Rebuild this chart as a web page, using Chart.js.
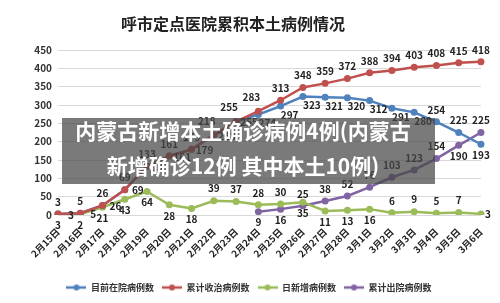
<!DOCTYPE html>
<html>
<head>
<meta charset="utf-8">
<script src="https://cdn.jsdelivr.net/npm/chart.js@4"></script>
<style>
  html, body { margin: 0; padding: 0; background: #fff; }
  #wrap { position: relative; width: 500px; height: 303px; }
  .cap {
    position: absolute; left: 62px; width: 362px; height: 24px; line-height: 24px;
    text-align: center; color: #fff; font: bold 21px "Noto Sans CJK SC", sans-serif;
    white-space: nowrap;
  }
  #box { position: absolute; left: 62px; top: 118px; width: 373px; height: 66px; background: rgba(70,70,70,0.72); }
</style>
</head>
<body>
<div id="wrap">
  <canvas id="chart" width="500" height="303"></canvas>
  <div id="box"></div>
  <div class="cap" style="top:115px">内蒙古新增本土确诊病例4例(内蒙古</div>
  <div class="cap" style="top:150px">新增确诊12例 其中本土10例)</div>
</div>
<script>
// dates on the x axis
const days = ["2月15日", "2月16日", "2月17日", "2月18日", "2月19日", "2月20日", "2月21日",
  "2月22日", "2月23日", "2月24日", "2月25日", "2月26日", "2月27日", "2月28日",
  "3月1日", "3月2日", "3月3日", "3月4日", "3月5日", "3月6日"];

const inHospital = [3, 5, 26, 69, 133, 161, 179, 218, 255, 274, 297, 323, 321, 320, 312, 291, 280, 254, 225, 193];
const totalAdmitted = [3, 5, 26, 69, 133, 161, 179, 218, 255, 283, 313, 348, 359, 372, 388, 394, 403, 408, 415, 418];
const newCases = [3, 2, 21, 43, 64, 28, 18, 39, 37, 28, 30, 35, 11, 13, 16, 6, 9, 5, 7, 3];
const totalDischarged = [null, null, null, null, null, null, null, null, null, 9, 16, 25, 38, 52, 76, 103, 123, 154, 190, 225];

const yTicks = [0, 50, 100, 150, 200, 250, 300, 350, 400, 450];

// where each value label sits: T above, t above-left, B below, b below-right, R/r right
const labelSpots = [
  "RRRRRRRRRbbbbbbbbTTB",
  "TTTTTTTtttTTTTTTTTTT",
  "BBBBBBBTTTTBBBBTTTTr",
  "---------BBTTTTTTTBT"
];
const spotOffset = { T: [0, -12], t: [-7, -14], B: [0, 11], b: [9, 9], R: [13, 1], r: [7, 0] };

const blue = "#4f81bd", red = "#c0504d", green = "#9bbb59", purple = "#8064a2";

function lineIcon(color) {
  const c = document.createElement("canvas");
  c.width = 20; c.height = 8;
  const g = c.getContext("2d");
  g.strokeStyle = color; g.lineWidth = 2.5;
  g.beginPath(); g.moveTo(0, 4); g.lineTo(20, 4); g.stroke();
  g.fillStyle = color;
  g.beginPath(); g.arc(10, 4, 3, 0, Math.PI * 2); g.fill();
  return c;
}

const valueLabels = {
  id: "valueLabels",
  afterDatasetsDraw(chart) {
    const ctx = chart.ctx;
    ctx.save();
    ctx.font = "bold 10px 'Noto Sans CJK SC', sans-serif";
    ctx.fillStyle = "#222";
    ctx.textAlign = "center";
    ctx.textBaseline = "middle";
    chart.data.datasets.forEach((ds, i) => {
      const meta = chart.getDatasetMeta(i);
      meta.data.forEach((pt, j) => {
        const v = ds.data[j];
        if (v == null) return;
        const off = spotOffset[labelSpots[i][j]];
        if (!off) return;
        ctx.fillText(String(v), pt.x + off[0], pt.y + off[1]);
      });
    });
    ctx.restore();
  }
};

const chartTitle = {
  id: "chartTitle",
  afterDraw(chart) {
    const ctx = chart.ctx;
    ctx.save();
    ctx.font = "bold 16px 'Noto Sans CJK SC', sans-serif";
    ctx.fillStyle = "#222";
    ctx.textAlign = "center";
    ctx.textBaseline = "middle";
    ctx.fillText("呼市定点医院累积本土病例情况", 233, 24);
    ctx.restore();
  }
};

function series(label, data, color, order) {
  return {
    label: label,
    data: data,
    borderColor: color,
    backgroundColor: color,
    borderWidth: 2.5,
    pointRadius: 3.5,
    pointBorderWidth: 0,
    pointBackgroundColor: color,
    tension: 0,
    order: order
  };
}

new Chart(document.getElementById("chart").getContext("2d"), {
  type: "line",
  data: {
    labels: days,
    datasets: [
      series("目前在院病例数", inHospital, blue, 1),
      series("累计收治病例数", totalAdmitted, red, 0),
      series("日新增病例数", newCases, green, 2),
      series("累计出院病例数", totalDischarged, purple, 3)
    ]
  },
  options: {
    responsive: false,
    animation: false,
    layout: { padding: { top: 50, right: 2, bottom: 1, left: 0 } },
    plugins: {
      tooltip: { enabled: false },
      legend: {
        position: "bottom",
        labels: {
          usePointStyle: true,
          pointStyleWidth: 20,
          padding: 8,
          color: "#333",
          font: { size: 9, weight: "bold", family: "'Noto Sans CJK SC', sans-serif" },
          generateLabels: (chart) => chart.data.datasets.map((ds, i) => ({
            text: ds.label,
            pointStyle: lineIcon(ds.borderColor),
            fillStyle: ds.borderColor,
            strokeStyle: ds.borderColor,
            lineWidth: 0,
            hidden: false,
            datasetIndex: i,
            fontColor: "#333"
          }))
        }
      }
    },
    scales: {
      x: {
        grid: { display: false, drawTicks: false },
        border: { display: false },
        ticks: {
          minRotation: 45,
          maxRotation: 45,
          autoSkip: false,
          padding: 11,
          color: "#222",
          font: { size: 9.5, weight: "bold", family: "'Noto Sans CJK SC', sans-serif" }
        },
        afterFit: (s) => { s.height = 60; }
      },
      y: {
        min: 0,
        max: 450,
        afterBuildTicks: (s) => { s.ticks = yTicks.map((v) => ({ value: v })); },
        grid: { color: "#d9d9d9", drawTicks: false },
        border: { display: false },
        ticks: {
          padding: 6,
          color: "#333",
          font: { size: 10, weight: "bold", family: "'Noto Sans CJK SC', sans-serif" }
        },
        afterFit: (s) => { s.width = 58; }
      }
    }
  },
  plugins: [valueLabels, chartTitle]
});
</script>
</body>
</html>
